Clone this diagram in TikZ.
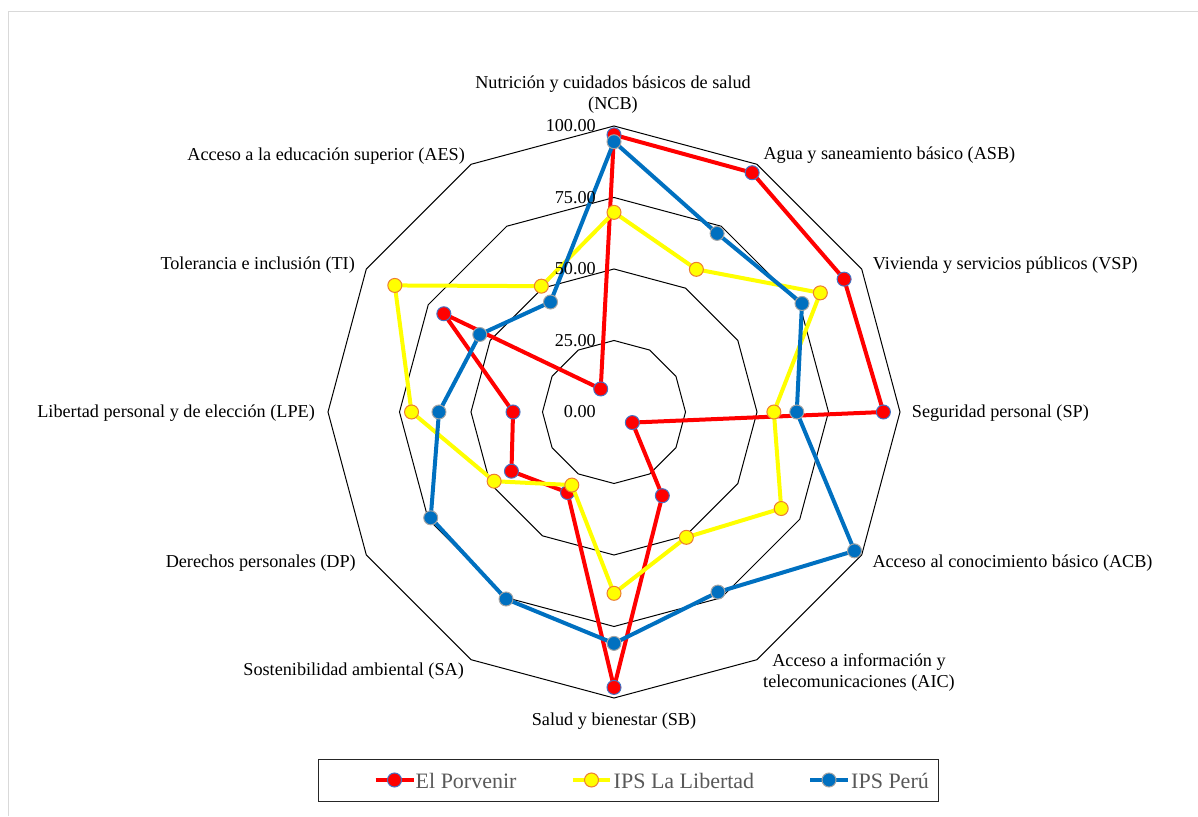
\documentclass[tikz,border=0pt]{standalone}
\usepackage{fontspec}
\setmainfont{Liberation Serif}
\definecolor{mkblue}{HTML}{4472C4}
\definecolor{mkorange}{HTML}{ED7D31}
\definecolor{serblue}{HTML}{0070C0}
\definecolor{mkgray}{HTML}{A5A5A5}
\definecolor{framegray}{HTML}{D9D9D9}
\definecolor{legtext}{HTML}{595959}
\definecolor{serred}{HTML}{FF0000}
\definecolor{seryellow}{HTML}{FFFF00}
\begin{document}
\begin{tikzpicture}[x=1pt,y=1pt,
  ring/.style={draw=black, line width=1pt},
  serline/.style={line width=4pt, line join=round},
  redline/.style={serline, draw=serred},
  yelline/.style={serline, draw=seryellow},
  bluline/.style={serline, draw=serblue},
  mark0/.style={circle, inner sep=0pt, minimum size=14pt, line width=1pt},
  redmark/.style={mark0, fill=serred, draw=mkblue},
  yelmark/.style={mark0, fill=seryellow, draw=mkorange},
  blumark/.style={mark0, fill=serblue, draw=mkgray},
  lab/.style={inner sep=0pt, font=\fontsize{18.2}{20.7}\selectfont, text=black},
  legtxt/.style={inner sep=0pt, font=\fontsize{22}{24}\selectfont, text=legtext, anchor=west}]
\useasboundingbox (0,0) rectangle (1198,816);
\draw[framegray, line width=1pt] (8.5,0) -- (8.5,804.5) -- (1198,804.5);
\coordinate (C) at (614,404);
\begin{scope}[shift={(614,404)}]
  \foreach \r in {71.5,143,214.5,286}
    \draw[ring] (90:\r) \foreach \a in {1,...,11}{ -- (90-30*\a:\r)} -- cycle;
  \foreach \v [count=\i from 0] in {96.9,96.6,92.9,94.2,7.4,33.8,96.3,32.5,41.4,35.3,68.7,9.3}
    \coordinate (r\i) at (90-30*\i:2.86*\v);
  \foreach \v [count=\i from 0] in {69.8,57.6,83.3,55.9,67.5,50.6,63.4,29.5,48.4,70.8,88.5,50.8}
    \coordinate (y\i) at (90-30*\i:2.86*\v);
  \foreach \v [count=\i from 0] in {94.5,72.1,75.9,63.9,97.1,72.7,80.9,75.5,74.0,61.2,54.2,44.4}
    \coordinate (b\i) at (90-30*\i:2.86*\v);
\end{scope}
% series
\draw[redline] (r0) \foreach \i in {1,...,11}{ -- (r\i)} -- cycle;
\foreach \i in {0,...,11} \node[redmark] (rm\i) at (r\i) {};
\draw[yelline] (y0) \foreach \i in {1,...,11}{ -- (y\i)} -- cycle;
\foreach \i in {0,...,11} \node[yelmark] (ym\i) at (y\i) {};
\draw[bluline] (b0) \foreach \i in {1,...,11}{ -- (b\i)} -- cycle;
\foreach \i in {0,...,11} \node[blumark] (bm\i) at (b\i) {};
% value labels
\node[lab, anchor=east] (v0) at (596,404) {0.00};
\node[lab, anchor=east] (v25) at (596,475.5) {25.00};
\node[lab, anchor=east] (v50) at (596,547) {50.00};
\node[lab, anchor=east] (v75) at (596,618.5) {75.00};
\node[lab, anchor=east] (v100) at (596,690) {100.00};
% axis labels
\node[lab, align=center] (lNCB) at (613,721.7) {Nutrición y cuidados básicos de salud\\(NCB)};
\node[lab, anchor=west] (lASB) at (763.3,660.4) {Agua y saneamiento básico (ASB)};
\node[lab, anchor=west] (lVSP) at (872.7,550.7) {Vivienda y servicios públicos (VSP)};
\node[lab, anchor=west] (lSP) at (911.7,402.4) {Seguridad personal (SP)};
\node[lab, anchor=west] (lACB) at (872.3,253) {Acceso al conocimiento básico (ACB)};
\node[lab, align=center] (lAIC) at (859,143.5) {Acceso a información y\\telecomunicaciones (AIC)};
\node[lab] (lSB) at (614,94.7) {Salud y bienestar (SB)};
\node[lab, anchor=east] (lSA) at (464,144.7) {Sostenibilidad ambiental (SA)};
\node[lab, anchor=east] (lDP) at (356,252.7) {Derechos personales (DP)};
\node[lab, anchor=east] (lLPE) at (315,402.7) {Libertad personal y de elección (LPE)};
\node[lab, anchor=east] (lTI) at (355,550.7) {Tolerancia e inclusión (TI)};
\node[lab, anchor=east] (lAES) at (465,659.7) {Acceso a la educación superior (AES)};
% legend
\node[draw=black!85, line width=0.8pt, minimum width=620pt, minimum height=42pt, inner sep=0pt] (legbox) at (628,36) {};
\coordinate (la1) at (375.5,36); \coordinate (lb1) at (413.5,36);
\draw[redline] (la1) -- (lb1);
\node[redmark] (lm1) at (394.5,36) {};
\node[legtxt] (lt1) at (415.5,35) {El Porvenir};
\coordinate (la2) at (572.7,36); \coordinate (lb2) at (610,36);
\draw[yelline] (la2) -- (lb2);
\node[yelmark] (lm2) at (591.5,36) {};
\node[legtxt] (lt2) at (613.5,35) {IPS La Libertad};
\coordinate (la3) at (810,36); \coordinate (lb3) at (848,36);
\draw[bluline] (la3) -- (lb3);
\node[blumark] (lm3) at (829,36) {};
\node[legtxt] (lt3) at (851,35) {IPS Perú};
\end{tikzpicture}
\end{document}
